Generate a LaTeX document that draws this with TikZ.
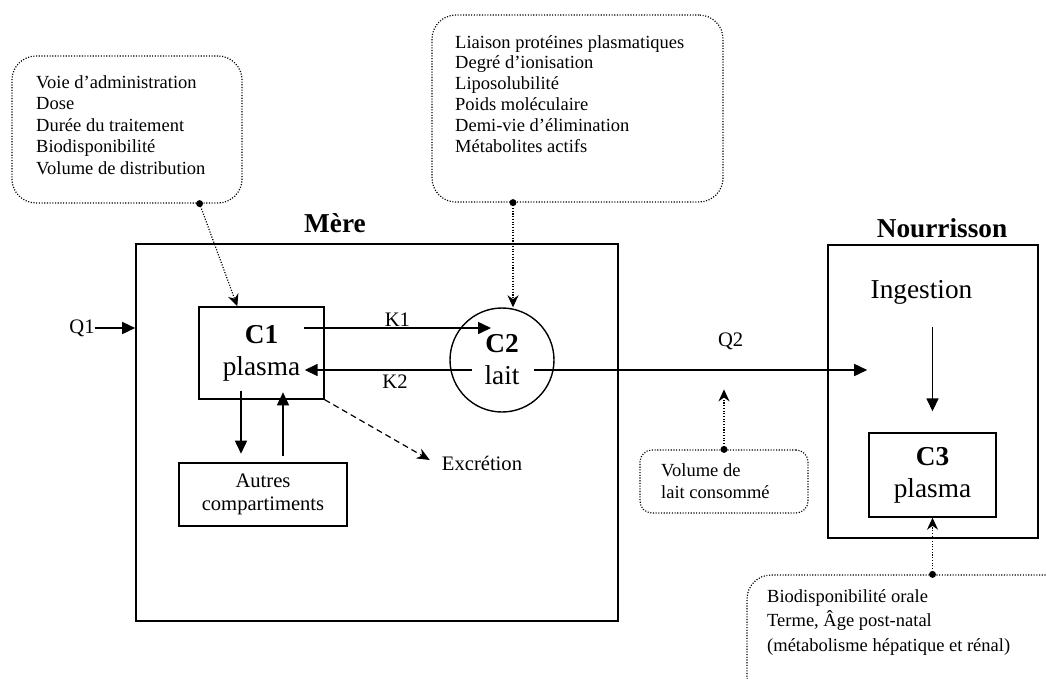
\documentclass[tikz,border=0pt]{standalone}
\usepackage{fontspec}
\setmainfont{Liberation Serif}
\usetikzlibrary{arrows.meta}

\begin{document}
\begin{tikzpicture}[x=1pt, y=-1pt,
    every node/.append style={inner sep=0pt},
    small/.style={font=\fontsize{18.5}{21.5}\selectfont},
    lbl/.style={font=\fontsize{20.6}{23}\selectfont},
    big/.style={font=\fontsize{27.3}{32}\selectfont},
    title/.style={font=\fontsize{27.3}{32}\selectfont\bfseries},
    frame/.style={draw, line width=1.6pt},
    comp/.style={draw, line width=1.4pt, big, align=center},
    info/.style={draw, line width=1.2pt, dash pattern=on 1.1pt off 1.6pt, rounded corners=24pt},
    infotext/.style={small, align=left, anchor=north west},
    dot/.style={circle, fill, minimum size=7pt},
    arr/.style={line width=1.6pt, -{Triangle[length=13pt,width=12pt]}},
    dotarr/.style={line width=1.2pt, dash pattern=on 1.1pt off 1.6pt, -{Stealth[length=12pt,width=11pt]}},
    dasharr/.style={line width=1.2pt, dash pattern=on 6pt off 4pt, -{Stealth[length=13pt,width=11pt]}}]

    \useasboundingbox (0,0) rectangle (1046,678);
    \clip (0,0) rectangle (1046,678);

    \node[frame, minimum width=482pt, minimum height=377pt] (mere) at (377,432.5) {};
    \node[title] (mereT) at (335,223) {Mère};
    \node[frame, minimum width=210pt, minimum height=293pt] (nour) at (933,391.5) {};
    \node[title] (nourT) at (942,228) {Nourrisson};

    \node[comp, minimum width=125pt, minimum height=92pt] (c1) at (261.5,353) {\textbf{C1}\\plasma};
    \node[comp, circle, minimum size=104pt] (c2) at (502,360) {\textbf{C2}\\lait};
    \node[comp, minimum width=127pt, minimum height=84pt] (c3) at (932.5,475) {\textbf{C3}\\plasma};
    \node[draw, line width=1.4pt, lbl, align=center, minimum width=168pt, minimum height=63pt] (autres) at (263,494.5) {Autres\\compartiments};
    \node[big] (ingest) at (921.5,292) {Ingestion};
    \node[lbl] (q1) at (82,328) {Q1};
    \node[lbl] (excr) at (482,463) {Excrétion};

    \node[info, minimum width=230pt, minimum height=147pt] (admin) at (127,129.5) {};
    \node[infotext] (adminT) at (36,75) {Voie d’administration\\Dose\\Durée du traitement\\Biodisponibilité\\Volume de distribution};
    \node[info, minimum width=291pt, minimum height=187pt] (props) at (577.5,108.5) {};
    \node[infotext, font=\fontsize{18.5}{20.8}\selectfont] (propsT) at (455,35) {Liaison protéines plasmatiques\\Degré d’ionisation\\Liposolubilité\\Poids moléculaire\\Demi-vie d’élimination\\Métabolites actifs};
    \node[info, rounded corners=12pt, minimum width=168pt, minimum height=63pt] (vol) at (724,481.5) {};
    \node[infotext, font=\fontsize{18.5}{22}\selectfont] (volT) at (661,463) {Volume de\\lait consommé};
    \node[info, minimum width=363pt, minimum height=125pt] (bebe) at (928.5,637.5) {};
    \node[infotext, font=\fontsize{18.5}{24.5}\selectfont] (bebeT) at (767,589) {Biodisponibilité orale\\Terme, Âge post-natal\\(métabolisme hépatique et rénal)};

    \node[dot] (dotA) at ([xshift=-43pt]admin.south east) {};
    \node[dot] (dotB) at ([xshift=-64.5pt]props.south) {};
    \node[dot] (dotC) at (vol.north) {};
    \node[dot] (dotD) at (c3.south |- bebe.north) {};
    \coordinate (ingB) at (ingest.south -| c3.north);

    \draw[arr] (q1.east) -- (q1 -| mere.west);
    \draw[arr] ([xshift=-21pt,yshift=25pt]c1.east) -- node[lbl, above=1pt] (k1) {K1} ([xshift=-11pt,yshift=32pt]c2.center);
    \draw[arr] ([xshift=-30pt,yshift=-10pt]c2.center) -- node[lbl, pos=0.46, below=4pt] (k2) {K2} ([xshift=-20pt,yshift=-17pt]c1.east);
    \draw[arr] ([xshift=32pt,yshift=-10pt]c2.center) -- node[lbl, pos=0.59, above=19pt] (q2) {Q2} ([xshift=40pt,yshift=21.5pt]nour.west);
    \draw[arr] ([xshift=-20.5pt,yshift=9pt]c1.south) -- ++(0,63);
    \draw[arr] ([xshift=20pt,yshift=6pt]autres.north) -- ++(0,-64);
    \draw[dasharr] (c1.south east) -- ([xshift=-12pt,yshift=3pt]excr.west);
    \draw[arr] ([yshift=-22.7pt]ingB) -- ([yshift=21pt]c3.north);

    \draw[dotarr] (dotA.center) -- ([xshift=39pt]c1.north west);
    \draw[dotarr] (dotB.center) -- (dotB |- c2.north);
    \draw[dotarr] (dotC.center) -- ++(0,-60);
    \draw[dotarr] (dotD.center) -- (c3.south);
\end{tikzpicture}
\end{document}
